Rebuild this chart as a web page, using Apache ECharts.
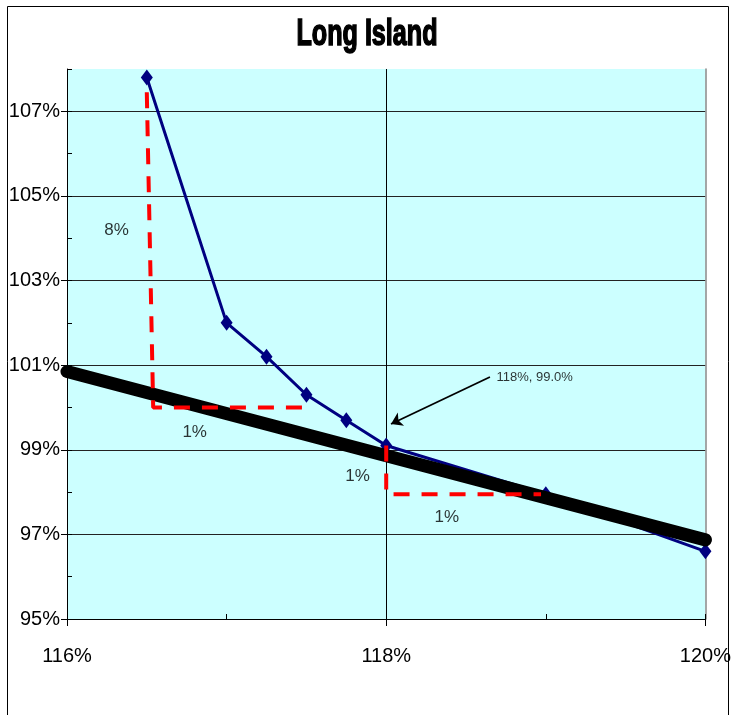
<!DOCTYPE html>
<html>
<head>
<meta charset="utf-8">
<script src="https://cdn.jsdelivr.net/npm/echarts@6/dist/echarts.min.js"></script>
<style>html,body{margin:0;padding:0;background:#fff}#c{width:734px;height:715px}</style>
</head>
<body>
<div id="c"></div>
<script>
// ---- data ----
const titleText = 'Long Island';
const blueX = [116.5, 117.0, 117.25, 117.5, 117.75, 118.0, 119.0, 120.0];
const blueY = [107.8, 102.0, 101.2, 100.3, 99.7, 99.1, 97.95, 96.6];
const blackX = [116, 120];
const blackY = [100.85, 96.87];
const red1X = [116.5, 116.54, 117.52];
const red1Y = [107.45, 100.0, 100.0];
const red2X = [118.0, 118.0, 118.97];
const red2Y = [99.1, 97.95, 97.95];
const noteText = ['8%', '1%', '1%', '1%', '118%, 99.0%'];
const noteX = [116.31, 116.80, 117.82, 118.38, 118.93];
const noteY = [104.19, 99.42, 98.38, 97.41, 100.70];
const arrowFrom = [118.65, 100.72];
const arrowTo = [118.03, 99.61];
const xMin = 116, xMax = 120, xStep = 2;
const yMin = 95, yMax = 108, yStep = 2;

const zip = (a, b) => a.map((v, i) => [v, b[i]]);
const font = '"Liberation Sans", Arial, sans-serif';
const chart = echarts.init(document.getElementById('c'), null, {renderer: 'canvas'});

const option = {
  animation: false,
  backgroundColor: '#ffffff',
  grid: {left: 67, right: 28, top: 69, bottom: 96, show: true, backgroundColor: '#CCFFFF', borderWidth: 0},
  xAxis: [
    {type: 'value', min: xMin, max: xMax, interval: xStep, position: 'bottom',
     axisLine: {show: true, lineStyle: {color: '#000', width: 1}},
     axisTick: {show: true, inside: false, length: 7, lineStyle: {color: '#000'}},
     axisLabel: {formatter: v => v + '%', fontSize: 20, color: '#000', fontFamily: font, margin: 27},
     splitLine: {show: true, showMinLine: false, showMaxLine: false, lineStyle: {color: '#000', width: 1}}},
    {type: 'value', min: xMin, max: xMax, interval: 1, position: 'bottom',
     axisLine: {show: false}, axisLabel: {show: false}, splitLine: {show: false},
     axisTick: {show: true, inside: true, length: 5, lineStyle: {color: '#000'}}}
  ],
  yAxis: [
    {type: 'value', min: yMin, max: yMax, interval: yStep, position: 'left',
     axisLine: {show: true, lineStyle: {color: '#000', width: 1}},
     axisTick: {show: true, inside: false, length: 6, lineStyle: {color: '#000'}},
     axisLabel: {formatter: v => v + '%', fontSize: 20, color: '#000', fontFamily: font, margin: 7, showMaxLabel: false},
     splitLine: {show: true, showMinLine: false, showMaxLine: false, lineStyle: {color: '#222', width: 1}}},
    {type: 'value', min: yMin, max: yMax, interval: 1, position: 'left',
     axisLine: {show: false}, axisLabel: {show: false}, splitLine: {show: false},
     axisTick: {show: true, inside: true, length: 5, lineStyle: {color: '#000'}}},
    {type: 'value', min: yMin, max: yMax, interval: yStep, position: 'right',
     axisLine: {show: true, lineStyle: {color: '#888', width: 1.5}},
     axisTick: {show: false}, axisLabel: {show: false}, splitLine: {show: false}}
  ],
  series: [
    {type: 'line', name: 'curve', data: zip(blueX, blueY), z: 3,
     symbol: 'diamond', symbolSize: [12, 16], showSymbol: true,
     lineStyle: {color: '#000080', width: 3}, itemStyle: {color: '#000080'}},
    {type: 'line', name: 'trend', data: zip(blackX, blackY), z: 4, symbol: 'none',
     lineStyle: {color: '#000', width: 13, cap: 'round'}},
    {type: 'line', name: 'red1', data: zip(red1X, red1Y), z: 5, symbol: 'none',
     lineStyle: {color: '#FF0000', width: 4, type: [16, 12]}},
    {type: 'line', name: 'red2', data: zip(red2X, red2Y), z: 5, symbol: 'none',
     lineStyle: {color: '#FF0000', width: 4, type: [16, 12]}},
    {type: 'scatter', name: 'notes', z: 3.5, symbolSize: 1, itemStyle: {color: 'rgba(0,0,0,0)'},
     data: noteText.map((t, i) => ({
       value: [noteX[i], noteY[i]],
       label: {show: true, position: 'inside', formatter: t, color: '#000', fontFamily: font,
               fontSize: i === 4 ? 13 : 17,
               backgroundColor: i === 1 ? '#CCFFFF' : 'transparent', padding: i === 1 ? [6, 6, 12, 6] : 0}
     })),
     markLine: {silent: true, symbol: ['none', 'arrow'], symbolSize: 11, animation: false,
       lineStyle: {color: '#000', width: 1.8, type: 'solid'}, label: {show: false},
       data: [[{coord: arrowFrom}, {coord: arrowTo}]]}}
  ],
  graphic: [
    {type: 'rect', silent: true, shape: {x: 7.5, y: 6.5, width: 721, height: 740},
     style: {fill: 'none', stroke: '#000', lineWidth: 1}},
    {type: 'text', silent: true, x: 367, y: 35, scaleX: 0.68,
     style: {text: titleText, font: 'bold 37px ' + font, fill: '#000', stroke: '#000', lineWidth: 1.6,
             align: 'center', verticalAlign: 'middle'}}
  ]
};
chart.setOption(option);
</script>
</body>
</html>
